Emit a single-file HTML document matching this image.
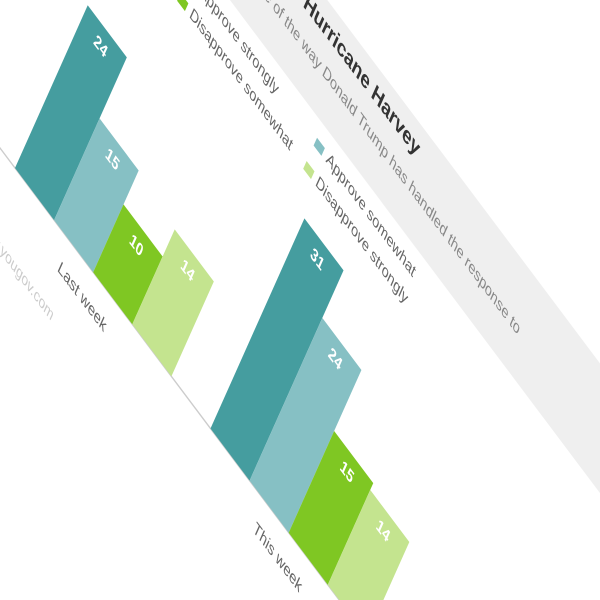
<!DOCTYPE html>
<html><head><meta charset="utf-8"><style>
html,body{margin:0;padding:0;background:#fff;width:600px;height:600px;overflow:hidden;}
svg{display:block;font-family:"Liberation Sans",sans-serif;}
</style></head><body>
<svg id="chart" width="600" height="600" viewBox="0 0 600 600" xmlns="http://www.w3.org/2000/svg">
<rect x="0" y="0" width="600" height="600" fill="#ffffff"/>
<g id="plane" transform="matrix(0.9775 1.3025 -0.4329 0.9686 15 168)">
  <rect x="-600" y="-378" width="1800" height="84" fill="#efefef"/>
  <g transform="translate(254,-353) scale(0.85,1.15)"><text x="0" y="0" text-anchor="end" font-size="16.5" font-weight="bold" fill="#333">Response to Hurricane Harvey</text></g>
  <g transform="translate(370,-325) scale(0.85,1.15)"><text x="0" y="0" text-anchor="end" font-size="12.3" fill="#888">Do you approve or disapprove of the way Donald Trump has handled the response to</text></g>
  <g id="legend"></g>
  <line x1="-100" y1="0" x2="420" y2="0" stroke="#cccccc" stroke-width="1.5"/>
  <g id="bars"></g>
  <g id="xlabels"></g>
  <g transform="translate(67,68) scale(0.85,1.15)"><text x="0" y="0" text-anchor="end" font-size="11.7" fill="#cccccc">today.yougov.com</text></g>
</g>
</svg>
<script>
const categories = ["Last week", "This week"];
const seriesNames = ["Approve strongly", "Approve somewhat", "Disapprove somewhat", "Disapprove strongly"];
const approveStrongly = [24, 31];
const approveSomewhat = [15, 24];
const disapproveSomewhat = [10, 15];
const disapproveStrongly = [14, 14];
const seriesColors = ["#459d9f", "#86c0c4", "#7fc723", "#c4e48f"];

const NS = "http://www.w3.org/2000/svg";
const BAR_W = 40, GROUP_STEP = 5, UNIT = 7;
function xScale(g, i) { return (g * GROUP_STEP + i) * BAR_W; }
function yScale(v) { return -v * UNIT; }
function mk(tag, attrs, parent) {
  const e = document.createElementNS(NS, tag);
  for (const k in attrs) e.setAttribute(k, attrs[k]);
  parent.appendChild(e);
  return e;
}
function textAt(parent, x, y, attrs) {
  const g = mk("g", {transform: "translate(" + x + "," + y + ") scale(0.85,1.15)"}, parent);
  return mk("text", Object.assign({x: 0, y: 0}, attrs), g);
}
const series = [approveStrongly, approveSomewhat, disapproveSomewhat, disapproveStrongly];
const bars = document.getElementById("bars");
categories.forEach((cat, g) => {
  series.forEach((vals, i) => {
    const v = vals[g];
    const r = mk("rect", {x: xScale(g, i), y: yScale(v), width: BAR_W, height: -yScale(v), fill: seriesColors[i]}, bars);
    
    
    const t = textAt(bars, xScale(g, i) + BAR_W / 2, yScale(v) + 20, {"text-anchor": "middle", "font-size": 12.5, "font-weight": "bold", fill: "#ffffff"});
    
    
    t.textContent = v;
  });
  const lab = textAt(document.getElementById("xlabels"), xScale(g, 2), 30, {"text-anchor": "middle", "font-size": 12.5, fill: "#666"});
  
  
  lab.textContent = cat;
});
const legend = document.getElementById("legend");
const legPos = [[60, -276], [189, -276], [60, -252], [189, -252]];
seriesNames.forEach((name, i) => {
  const p = legPos[i];
  const sq = mk("rect", {x: p[0] - 4, y: p[1] - 4, width: 8, height: 8, fill: seriesColors[i]}, legend);
  
  
  const t = textAt(legend, p[0] + 8, p[1] + 4, {"font-size": 12.3, fill: "#666"});
  
  
  t.textContent = name;
});
</script>
</body></html>
